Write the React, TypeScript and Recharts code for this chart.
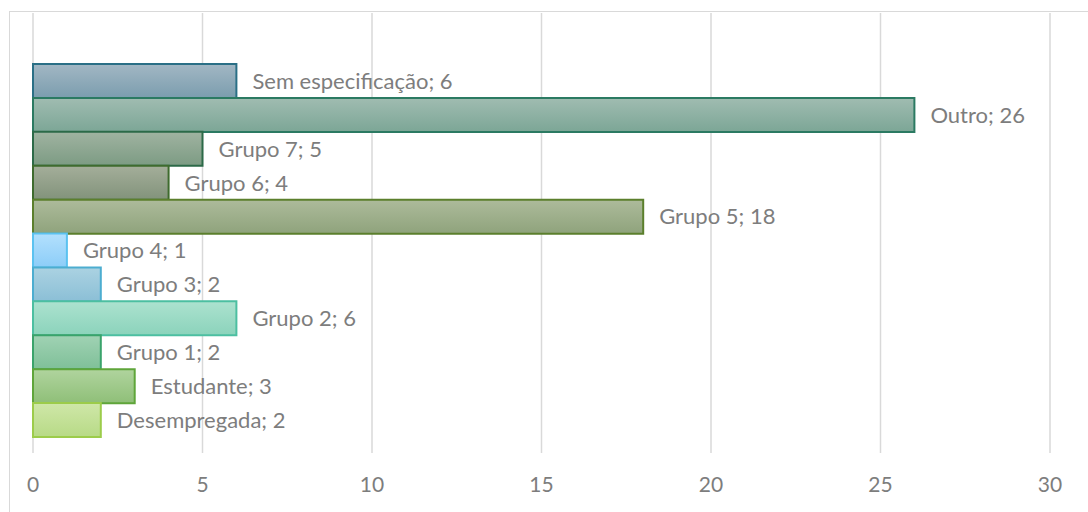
import React from "react";
import { BarChart, Bar, XAxis, YAxis, CartesianGrid, Cell, LabelList } from "recharts";

// top to bottom, as drawn
const categories = [
  "Sem especificação",
  "Outro",
  "Grupo 7",
  "Grupo 6",
  "Grupo 5",
  "Grupo 4",
  "Grupo 3",
  "Grupo 2",
  "Grupo 1",
  "Estudante",
  "Desempregada",
];
const values = [6, 26, 5, 4, 18, 1, 2, 6, 2, 3, 2];
const xTicks = [0, 5, 10, 15, 20, 25, 30];

// [top, bottom, stroke] per bar
const palette: [string, string, string][] = [
  ["#a2b7c4", "#7b9dae", "#2a6f86"],
  ["#a0bcb1", "#7ca696", "#2b7a62"],
  ["#a0b3a1", "#7c9b83", "#2c6a48"],
  ["#a4ae9a", "#82937b", "#3e6b2e"],
  ["#adbb9b", "#8fa37c", "#5b7f2c"],
  ["#b3e0fd", "#8ccdf8", "#5bc2f0"],
  ["#abd2e2", "#8bbfd6", "#4cadd0"],
  ["#ace2cf", "#8bd3bb", "#4cbfa1"],
  ["#a0d2b4", "#7fc098", "#3aa36b"],
  ["#b0d49e", "#8fbf78", "#5fa53a"],
  ["#cfe7a8", "#b7da86", "#9ccc4a"],
];

const rows = categories.map((c, i) => ({ name: c, value: values[i], label: `${c}; ${values[i]}` }));

const FONT = "Lato, 'Liberation Sans', sans-serif";
const TEXT = "#7d7d7d";

export default function App() {
  return (
    <div style={{ position: "fixed", left: 0, top: 0, width: 1088, height: 512, background: "#fff", overflow: "hidden" }}>
      <div
        style={{
          position: "absolute",
          left: 9,
          top: 11,
          width: 1200,
          height: 600,
          border: "1.5px solid #d9d9d9",
        }}
      />
      <div style={{ position: "absolute", left: 0, top: 0 }}>
        <BarChart
          width={1088}
          height={512}
          data={rows}
          layout="vertical"
          margin={{ top: 13, right: 38, bottom: 0, left: 33 }}
          barCategoryGap={0}
        >
          <defs>
            {palette.map((p, i) => (
              <linearGradient key={i} id={`g${i}`} x1="0" y1="0" x2="0" y2="1">
                <stop offset="0%" stopColor={p[0]} />
                <stop offset="100%" stopColor={p[1]} />
              </linearGradient>
            ))}
          </defs>
          <CartesianGrid horizontal={false} stroke="#d9d9d9" strokeWidth={1.5} />
          <XAxis
            type="number"
            domain={[0, 30]}
            ticks={xTicks}
            axisLine={false}
            tickLine={false}
            tickSize={0}
            tickMargin={24}
            height={59}
            interval={0}
            tick={{ fontSize: 21, fill: TEXT, fontFamily: FONT }}
          />
          <YAxis type="category" dataKey="name" hide padding={{ top: 51, bottom: 16 }} />
          <Bar dataKey="value" isAnimationActive={false} strokeWidth={2}>
            {rows.map((r, i) => (
              <Cell key={r.name} fill={`url(#g${i})`} stroke={palette[i][2]} />
            ))}
            <LabelList
              dataKey="label"
              position="right"
              offset={16}
              style={{ fontSize: 22, fill: TEXT, fontFamily: FONT }}
            />
          </Bar>
        </BarChart>
      </div>
    </div>
  );
}
